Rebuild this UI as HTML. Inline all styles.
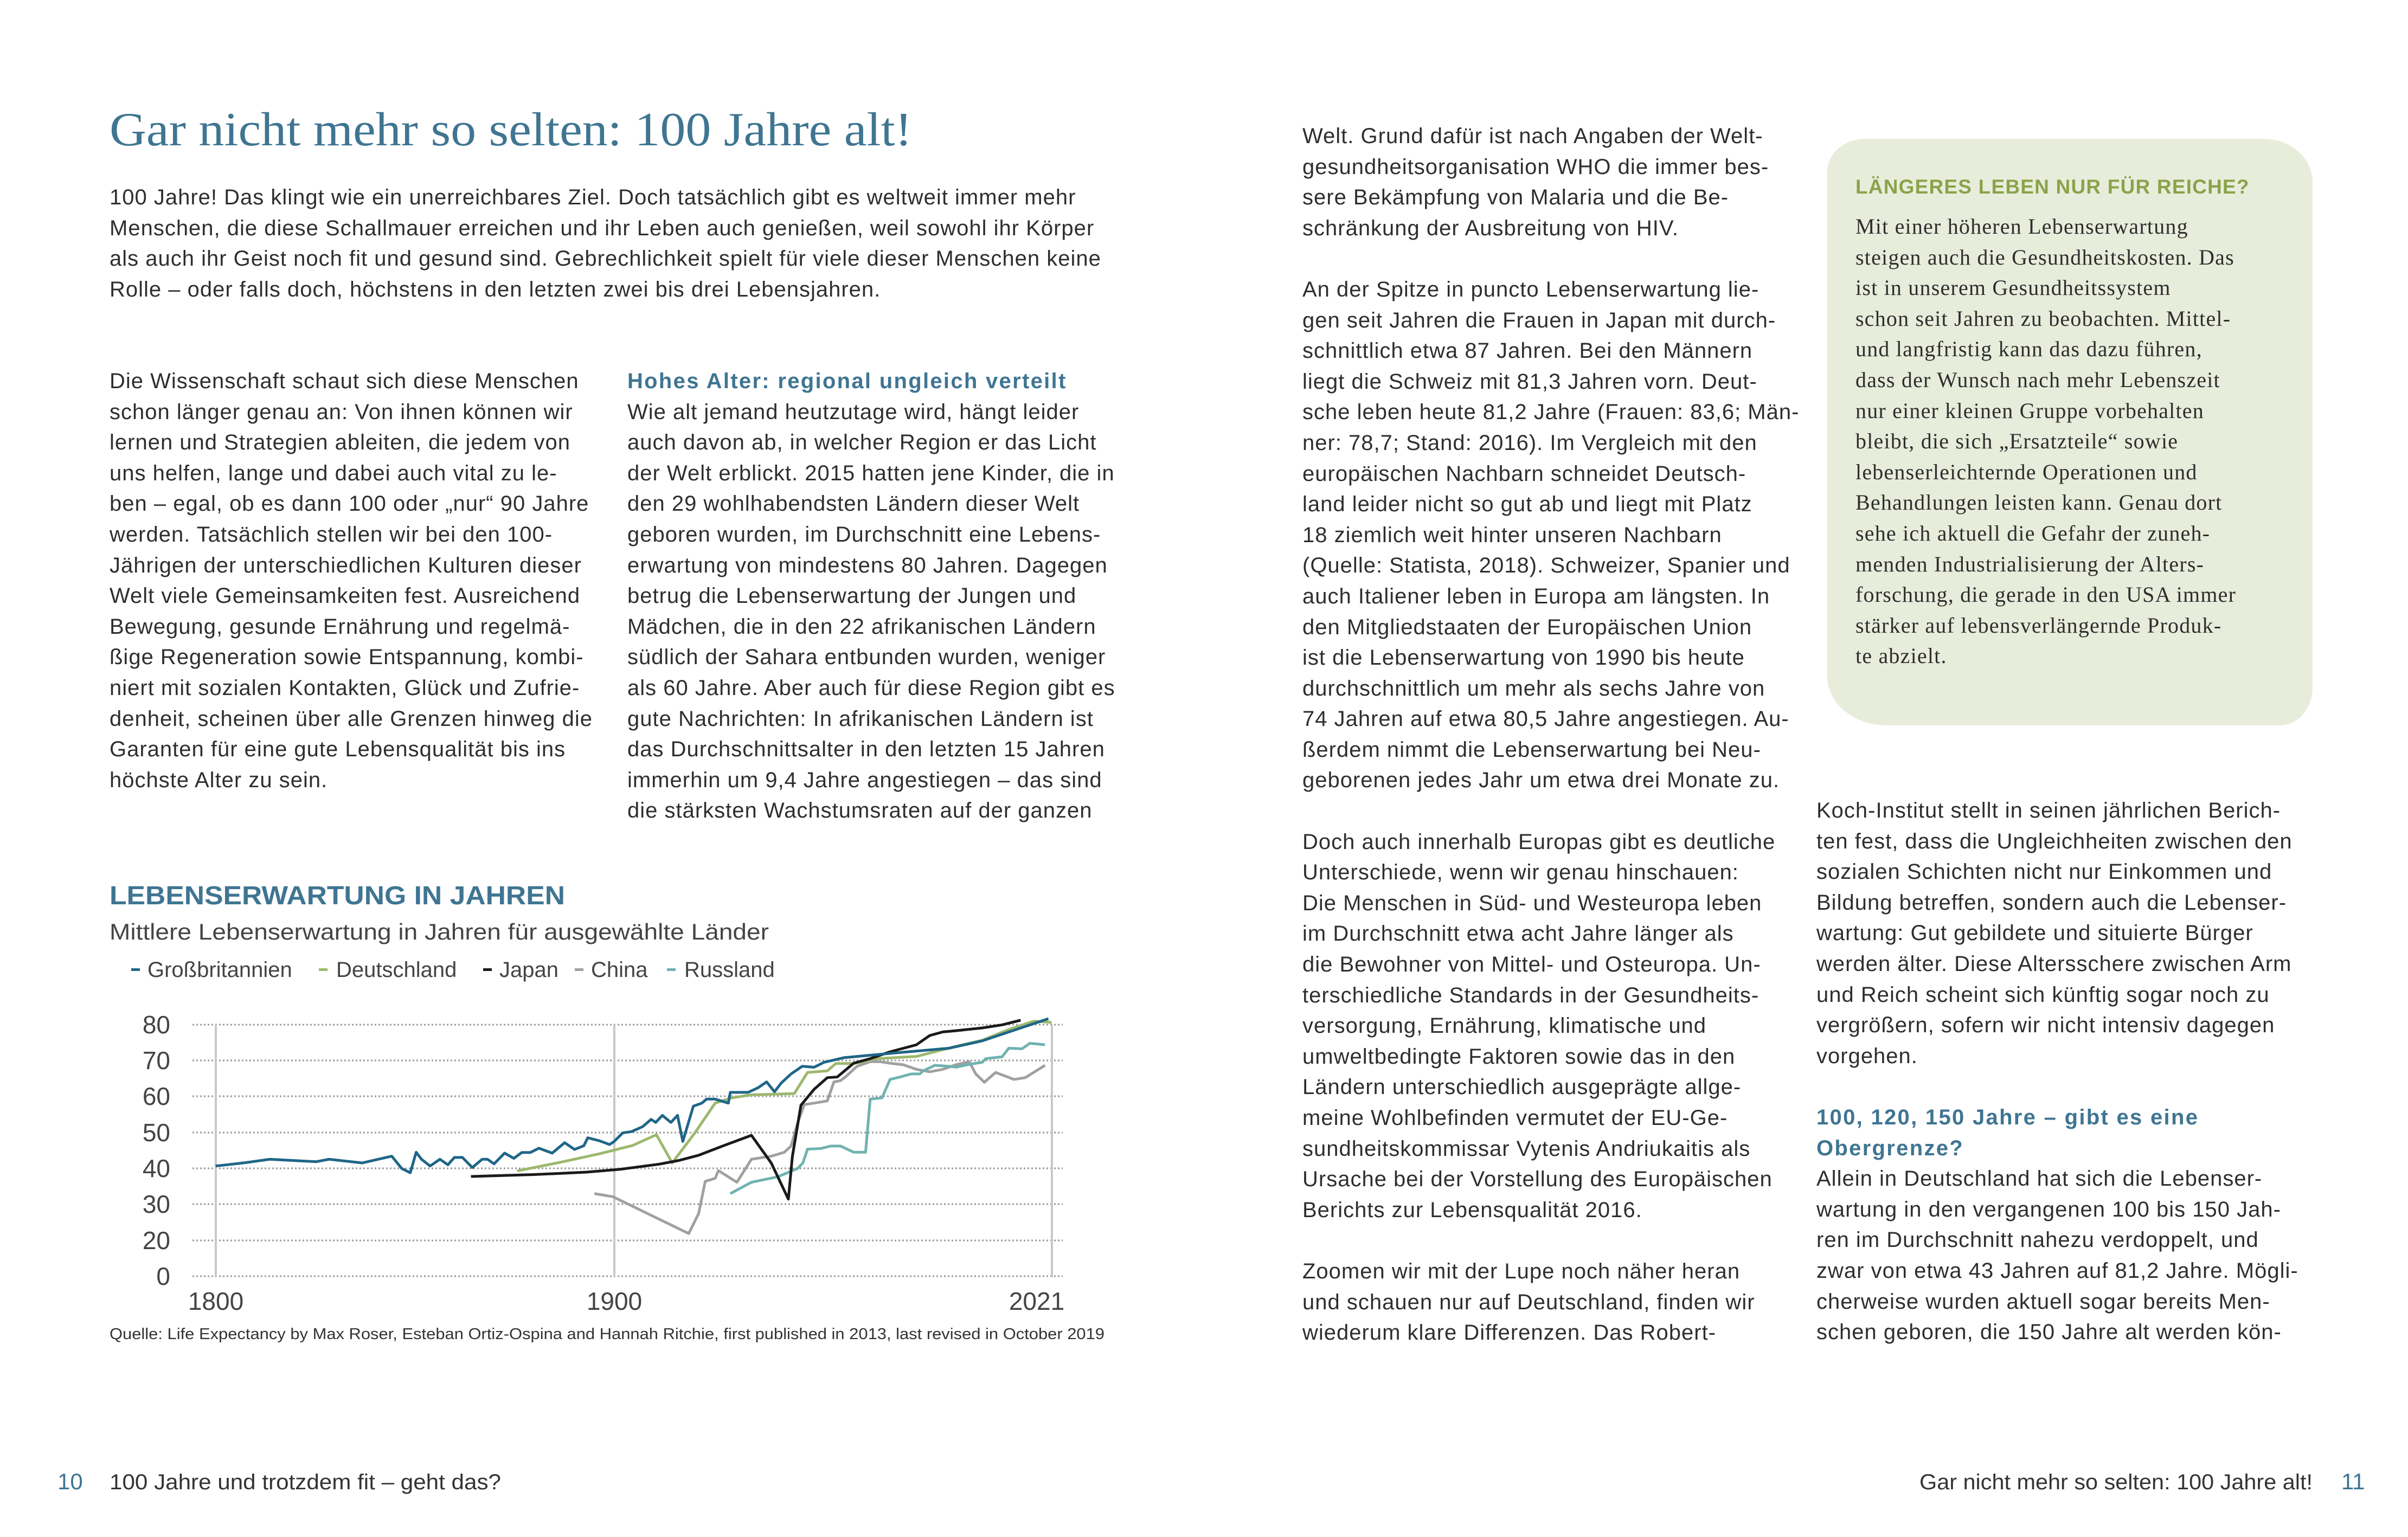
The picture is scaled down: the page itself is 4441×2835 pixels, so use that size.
<!DOCTYPE html>
<html><head><meta charset="utf-8"><style>
html,body{margin:0;padding:0;background:#fff;}
body{width:4441px;height:2835px;position:relative;overflow:hidden;font-family:"Liberation Sans",sans-serif;color:#2e2e2e;}
.col{position:absolute;font-size:40px;line-height:56.6px;white-space:nowrap;letter-spacing:1.0px;}
.col div{height:56.6px;}
.h{color:#3f7592;font-weight:bold;letter-spacing:2.3px;}
.box{position:absolute;left:3370px;top:256px;width:895px;height:1082px;background:#e8eddb;border-radius:70px 90px 60px 110px/60px 80px 70px 90px;}
.serif{font-family:"Liberation Serif",serif;font-size:40px;letter-spacing:1.2px;}
svg{position:absolute;left:0;top:0;}
</style></head><body>
<div class="box"></div>

<div class="col" style="left:202px;top:336px;">
<div>100 Jahre! Das klingt wie ein unerreichbares Ziel. Doch tatsächlich gibt es weltweit immer mehr</div>
<div>Menschen, die diese Schallmauer erreichen und ihr Leben auch genießen, weil sowohl ihr Körper</div>
<div>als auch ihr Geist noch fit und gesund sind. Gebrechlichkeit spielt für viele dieser Menschen keine</div>
<div>Rolle – oder falls doch, höchstens in den letzten zwei bis drei Lebensjahren.</div>
</div>

<div class="col" style="left:202px;top:675px;">
<div>Die Wissenschaft schaut sich diese Menschen</div>
<div>schon länger genau an: Von ihnen können wir</div>
<div>lernen und Strategien ableiten, die jedem von</div>
<div>uns helfen, lange und dabei auch vital zu le-</div>
<div>ben – egal, ob es dann 100 oder „nur“ 90 Jahre</div>
<div>werden. Tatsächlich stellen wir bei den 100-</div>
<div>Jährigen der unterschiedlichen Kulturen dieser</div>
<div>Welt viele Gemeinsamkeiten fest. Ausreichend</div>
<div>Bewegung, gesunde Ernährung und regelmä-</div>
<div>ßige Regeneration sowie Entspannung, kombi-</div>
<div>niert mit sozialen Kontakten, Glück und Zufrie-</div>
<div>denheit, scheinen über alle Grenzen hinweg die</div>
<div>Garanten für eine gute Lebensqualität bis ins</div>
<div>höchste Alter zu sein.</div>
</div>

<div class="col" style="left:1157px;top:675px;">
<div class="h">Hohes Alter: regional ungleich verteilt</div>
<div>Wie alt jemand heutzutage wird, hängt leider</div>
<div>auch davon ab, in welcher Region er das Licht</div>
<div>der Welt erblickt. 2015 hatten jene Kinder, die in</div>
<div>den 29 wohlhabendsten Ländern dieser Welt</div>
<div>geboren wurden, im Durchschnitt eine Lebens-</div>
<div>erwartung von mindestens 80 Jahren. Dagegen</div>
<div>betrug die Lebenserwartung der Jungen und</div>
<div>Mädchen, die in den 22 afrikanischen Ländern</div>
<div>südlich der Sahara entbunden wurden, weniger</div>
<div>als 60 Jahre. Aber auch für diese Region gibt es</div>
<div>gute Nachrichten: In afrikanischen Ländern ist</div>
<div>das Durchschnittsalter in den letzten 15 Jahren</div>
<div>immerhin um 9,4 Jahre angestiegen – das sind</div>
<div>die stärksten Wachstumsraten auf der ganzen</div>
</div>

<div class="col" style="left:2402px;top:223px;">
<div>Welt. Grund dafür ist nach Angaben der Welt-</div>
<div>gesundheitsorganisation WHO die immer bes-</div>
<div>sere Bekämpfung von Malaria und die Be-</div>
<div>schränkung der Ausbreitung von HIV.</div>
<div></div>
<div>An der Spitze in puncto Lebenserwartung lie-</div>
<div>gen seit Jahren die Frauen in Japan mit durch-</div>
<div>schnittlich etwa 87 Jahren. Bei den Männern</div>
<div>liegt die Schweiz mit 81,3 Jahren vorn. Deut-</div>
<div>sche leben heute 81,2 Jahre (Frauen: 83,6; Män-</div>
<div>ner: 78,7; Stand: 2016). Im Vergleich mit den</div>
<div>europäischen Nachbarn schneidet Deutsch-</div>
<div>land leider nicht so gut ab und liegt mit Platz</div>
<div>18 ziemlich weit hinter unseren Nachbarn</div>
<div>(Quelle: Statista, 2018). Schweizer, Spanier und</div>
<div>auch Italiener leben in Europa am längsten. In</div>
<div>den Mitgliedstaaten der Europäischen Union</div>
<div>ist die Lebenserwartung von 1990 bis heute</div>
<div>durchschnittlich um mehr als sechs Jahre von</div>
<div>74 Jahren auf etwa 80,5 Jahre angestiegen. Au-</div>
<div>ßerdem nimmt die Lebenserwartung bei Neu-</div>
<div>geborenen jedes Jahr um etwa drei Monate zu.</div>
<div></div>
<div>Doch auch innerhalb Europas gibt es deutliche</div>
<div>Unterschiede, wenn wir genau hinschauen:</div>
<div>Die Menschen in Süd- und Westeuropa leben</div>
<div>im Durchschnitt etwa acht Jahre länger als</div>
<div>die Bewohner von Mittel- und Osteuropa. Un-</div>
<div>terschiedliche Standards in der Gesundheits-</div>
<div>versorgung, Ernährung, klimatische und</div>
<div>umweltbedingte Faktoren sowie das in den</div>
<div>Ländern unterschiedlich ausgeprägte allge-</div>
<div>meine Wohlbefinden vermutet der EU-Ge-</div>
<div>sundheitskommissar Vytenis Andriukaitis als</div>
<div>Ursache bei der Vorstellung des Europäischen</div>
<div>Berichts zur Lebensqualität 2016.</div>
<div></div>
<div>Zoomen wir mit der Lupe noch näher heran</div>
<div>und schauen nur auf Deutschland, finden wir</div>
<div>wiederum klare Differenzen. Das Robert-</div>
</div>

<div class="col" style="left:3422px;top:317px;color:#8aa34a;font-weight:bold;font-size:37px;letter-spacing:1.2px;">
<div>LÄNGERES LEBEN NUR FÜR REICHE?</div>
</div>
<div class="col serif" style="left:3422px;top:390px;">
<div>Mit einer höheren Lebenserwartung</div>
<div>steigen auch die Gesundheitskosten. Das</div>
<div>ist in unserem Gesundheitssystem</div>
<div>schon seit Jahren zu beobachten. Mittel-</div>
<div>und langfristig kann das dazu führen,</div>
<div>dass der Wunsch nach mehr Lebenszeit</div>
<div>nur einer kleinen Gruppe vorbehalten</div>
<div>bleibt, die sich „Ersatzteile“ sowie</div>
<div>lebenserleichternde Operationen und</div>
<div>Behandlungen leisten kann. Genau dort</div>
<div>sehe ich aktuell die Gefahr der zuneh-</div>
<div>menden Industrialisierung der Alters-</div>
<div>forschung, die gerade in den USA immer</div>
<div>stärker auf lebensverlängernde Produk-</div>
<div>te abzielt.</div>
</div>

<div class="col" style="left:3350px;top:1467px;">
<div>Koch-Institut stellt in seinen jährlichen Berich-</div>
<div>ten fest, dass die Ungleichheiten zwischen den</div>
<div>sozialen Schichten nicht nur Einkommen und</div>
<div>Bildung betreffen, sondern auch die Lebenser-</div>
<div>wartung: Gut gebildete und situierte Bürger</div>
<div>werden älter. Diese Altersschere zwischen Arm</div>
<div>und Reich scheint sich künftig sogar noch zu</div>
<div>vergrößern, sofern wir nicht intensiv dagegen</div>
<div>vorgehen.</div>
<div></div>
<div class="h">100, 120, 150 Jahre – gibt es eine</div>
<div class="h">Obergrenze?</div>
<div>Allein in Deutschland hat sich die Lebenser-</div>
<div>wartung in den vergangenen 100 bis 150 Jah-</div>
<div>ren im Durchschnitt nahezu verdoppelt, und</div>
<div>zwar von etwa 43 Jahren auf 81,2 Jahre. Mögli-</div>
<div>cherweise wurden aktuell sogar bereits Men-</div>
<div>schen geboren, die 150 Jahre alt werden kön-</div>
</div>

<svg width="4441" height="2835" viewBox="0 0 4441 2835" font-family="Liberation Sans, sans-serif">
<text x="202" y="268" font-family="Liberation Serif, serif" font-size="88" fill="#3f7592" textLength="1480" lengthAdjust="spacingAndGlyphs">Gar nicht mehr so selten: 100 Jahre alt!</text>

<text x="202" y="1668" font-size="48" font-weight="bold" fill="#3f7592" textLength="840" lengthAdjust="spacingAndGlyphs">LEBENSERWARTUNG IN JAHREN</text>
<text x="202" y="1733" font-size="42" fill="#444" textLength="1216" lengthAdjust="spacingAndGlyphs">Mittlere Lebenserwartung in Jahren für ausgewählte Länder</text>
<g font-size="40" fill="#444">
<rect x="242" y="1786" width="16" height="5" fill="#1f6688"/><text x="272" y="1802">Großbritannien</text>
<rect x="588" y="1786" width="16" height="5" fill="#9db86e"/><text x="620" y="1802">Deutschland</text>
<rect x="891" y="1786" width="16" height="5" fill="#1a1a1a"/><text x="921" y="1802">Japan</text>
<rect x="1060" y="1786" width="16" height="5" fill="#a0a0a0"/><text x="1090" y="1802">China</text>
<rect x="1230" y="1786" width="16" height="5" fill="#6fb3b0"/><text x="1262" y="1802">Russland</text>
</g>

<g stroke="#9a9a9a" stroke-width="3" stroke-dasharray="3 4">
<line x1="355" x2="1960" y1="1890" y2="1890"/>
<line x1="355" x2="1960" y1="1956" y2="1956"/>
<line x1="355" x2="1960" y1="2022" y2="2022"/>
<line x1="355" x2="1960" y1="2089" y2="2089"/>
<line x1="355" x2="1960" y1="2155" y2="2155"/>
<line x1="355" x2="1960" y1="2221" y2="2221"/>
<line x1="355" x2="1960" y1="2288" y2="2288"/>
<line x1="355" x2="1960" y1="2354" y2="2354"/>
</g>
<g stroke="#c8c8c8" stroke-width="4">
<line x1="398" x2="398" y1="1890" y2="2356"/>
<line x1="1133" x2="1133" y1="1890" y2="2356"/>
<line x1="1940" x2="1940" y1="1890" y2="2356"/>
</g>
<g font-size="46" fill="#444" text-anchor="end">
<text x="314" y="1906">80</text>
<text x="314" y="1972">70</text>
<text x="314" y="2038">60</text>
<text x="314" y="2105">50</text>
<text x="314" y="2171">40</text>
<text x="314" y="2237">30</text>
<text x="314" y="2304">20</text>
<text x="314" y="2370">0</text>
</g>
<g font-size="46" fill="#444" text-anchor="middle">
<text x="398" y="2416">1800</text>
<text x="1133" y="2416">1900</text>
<text x="1912" y="2416">2021</text>
</g>

<g transform="translate(181,1613) scale(1.217,0.566)" fill="none" stroke-width="5" stroke-linejoin="round">
<polyline vector-effect="non-scaling-stroke" stroke="#a0a0a0" points="752,1040 780,1050 895,1170 910,1105 920,1000 935,990 940,965 968,1003 990,928 1020,918 1040,905 1050,885 1060,810 1070,750 1085,745 1105,738 1115,676 1125,672 1135,655 1150,625 1170,610 1185,610 1200,615 1220,620 1240,635 1260,643 1280,635 1300,620 1320,610 1330,650 1343,677 1360,645 1388,668 1405,662 1435,622"/>
<polyline vector-effect="non-scaling-stroke" stroke="#6fb3b0" points="958,1040 990,1003 1030,985 1060,958 1068,940 1075,895 1095,893 1110,885 1125,885 1145,905 1163,905 1170,732 1188,728 1200,668 1215,660 1232,650 1245,650 1250,640 1268,622 1290,625 1300,628 1322,618 1340,612 1345,600 1370,594 1380,566 1400,568 1412,550 1435,555"/>
<polyline vector-effect="non-scaling-stroke" stroke="#9db86e" points="635,966 700,938 760,910 810,883 846,848 870,940 905,840 935,745 960,728 990,718 1055,714 1075,645 1105,640 1118,616 1145,616 1180,600 1240,593 1300,560 1340,540 1380,505 1418,478 1445,482"/>
<polyline vector-effect="non-scaling-stroke" stroke="#1a1a1a" points="565,984 660,978 740,970 790,961 850,944 880,932 910,915 950,882 990,850 1020,940 1046,1058 1052,920 1065,752 1085,700 1105,662 1120,660 1145,615 1170,600 1200,578 1240,555 1260,525 1280,513 1300,509 1340,500 1370,490 1398,475"/>
<polyline vector-effect="non-scaling-stroke" stroke="#1f6688" points="178,950 195,946 220,940 260,928 330,936 350,928 400,940 445,918 460,958 473,972 482,905 490,928 503,950 518,928 530,946 540,922 552,922 567,955 582,928 590,928 600,943 616,908 630,925 642,906 655,906 668,892 688,908 707,874 722,896 736,884 742,858 760,868 775,880 782,870 795,842 808,838 825,822 838,798 845,808 855,785 868,808 878,785 886,870 902,755 915,745 922,732 935,732 955,745 958,710 985,710 1000,695 1013,676 1025,708 1035,680 1050,650 1067,625 1085,628 1100,612 1130,597 1200,583 1290,566 1340,542 1440,470"/>
</g>

<text x="202" y="2470" font-size="29" fill="#333" textLength="1835" lengthAdjust="spacingAndGlyphs">Quelle: Life Expectancy by Max Roser, Esteban Ortiz-Ospina and Hannah Ritchie, first published in 2013, last revised in October 2019</text>

<text x="106" y="2747" font-size="42" fill="#3f7592">10</text>
<text x="202" y="2747" font-size="40" fill="#333" textLength="722" lengthAdjust="spacingAndGlyphs">100 Jahre und trotzdem fit – geht das?</text>
<text x="3540" y="2747" font-size="40" fill="#333" textLength="725" lengthAdjust="spacingAndGlyphs">Gar nicht mehr so selten: 100 Jahre alt!</text>
<text x="4318" y="2747" font-size="42" fill="#3f7592">11</text>
</svg>
</body></html>
